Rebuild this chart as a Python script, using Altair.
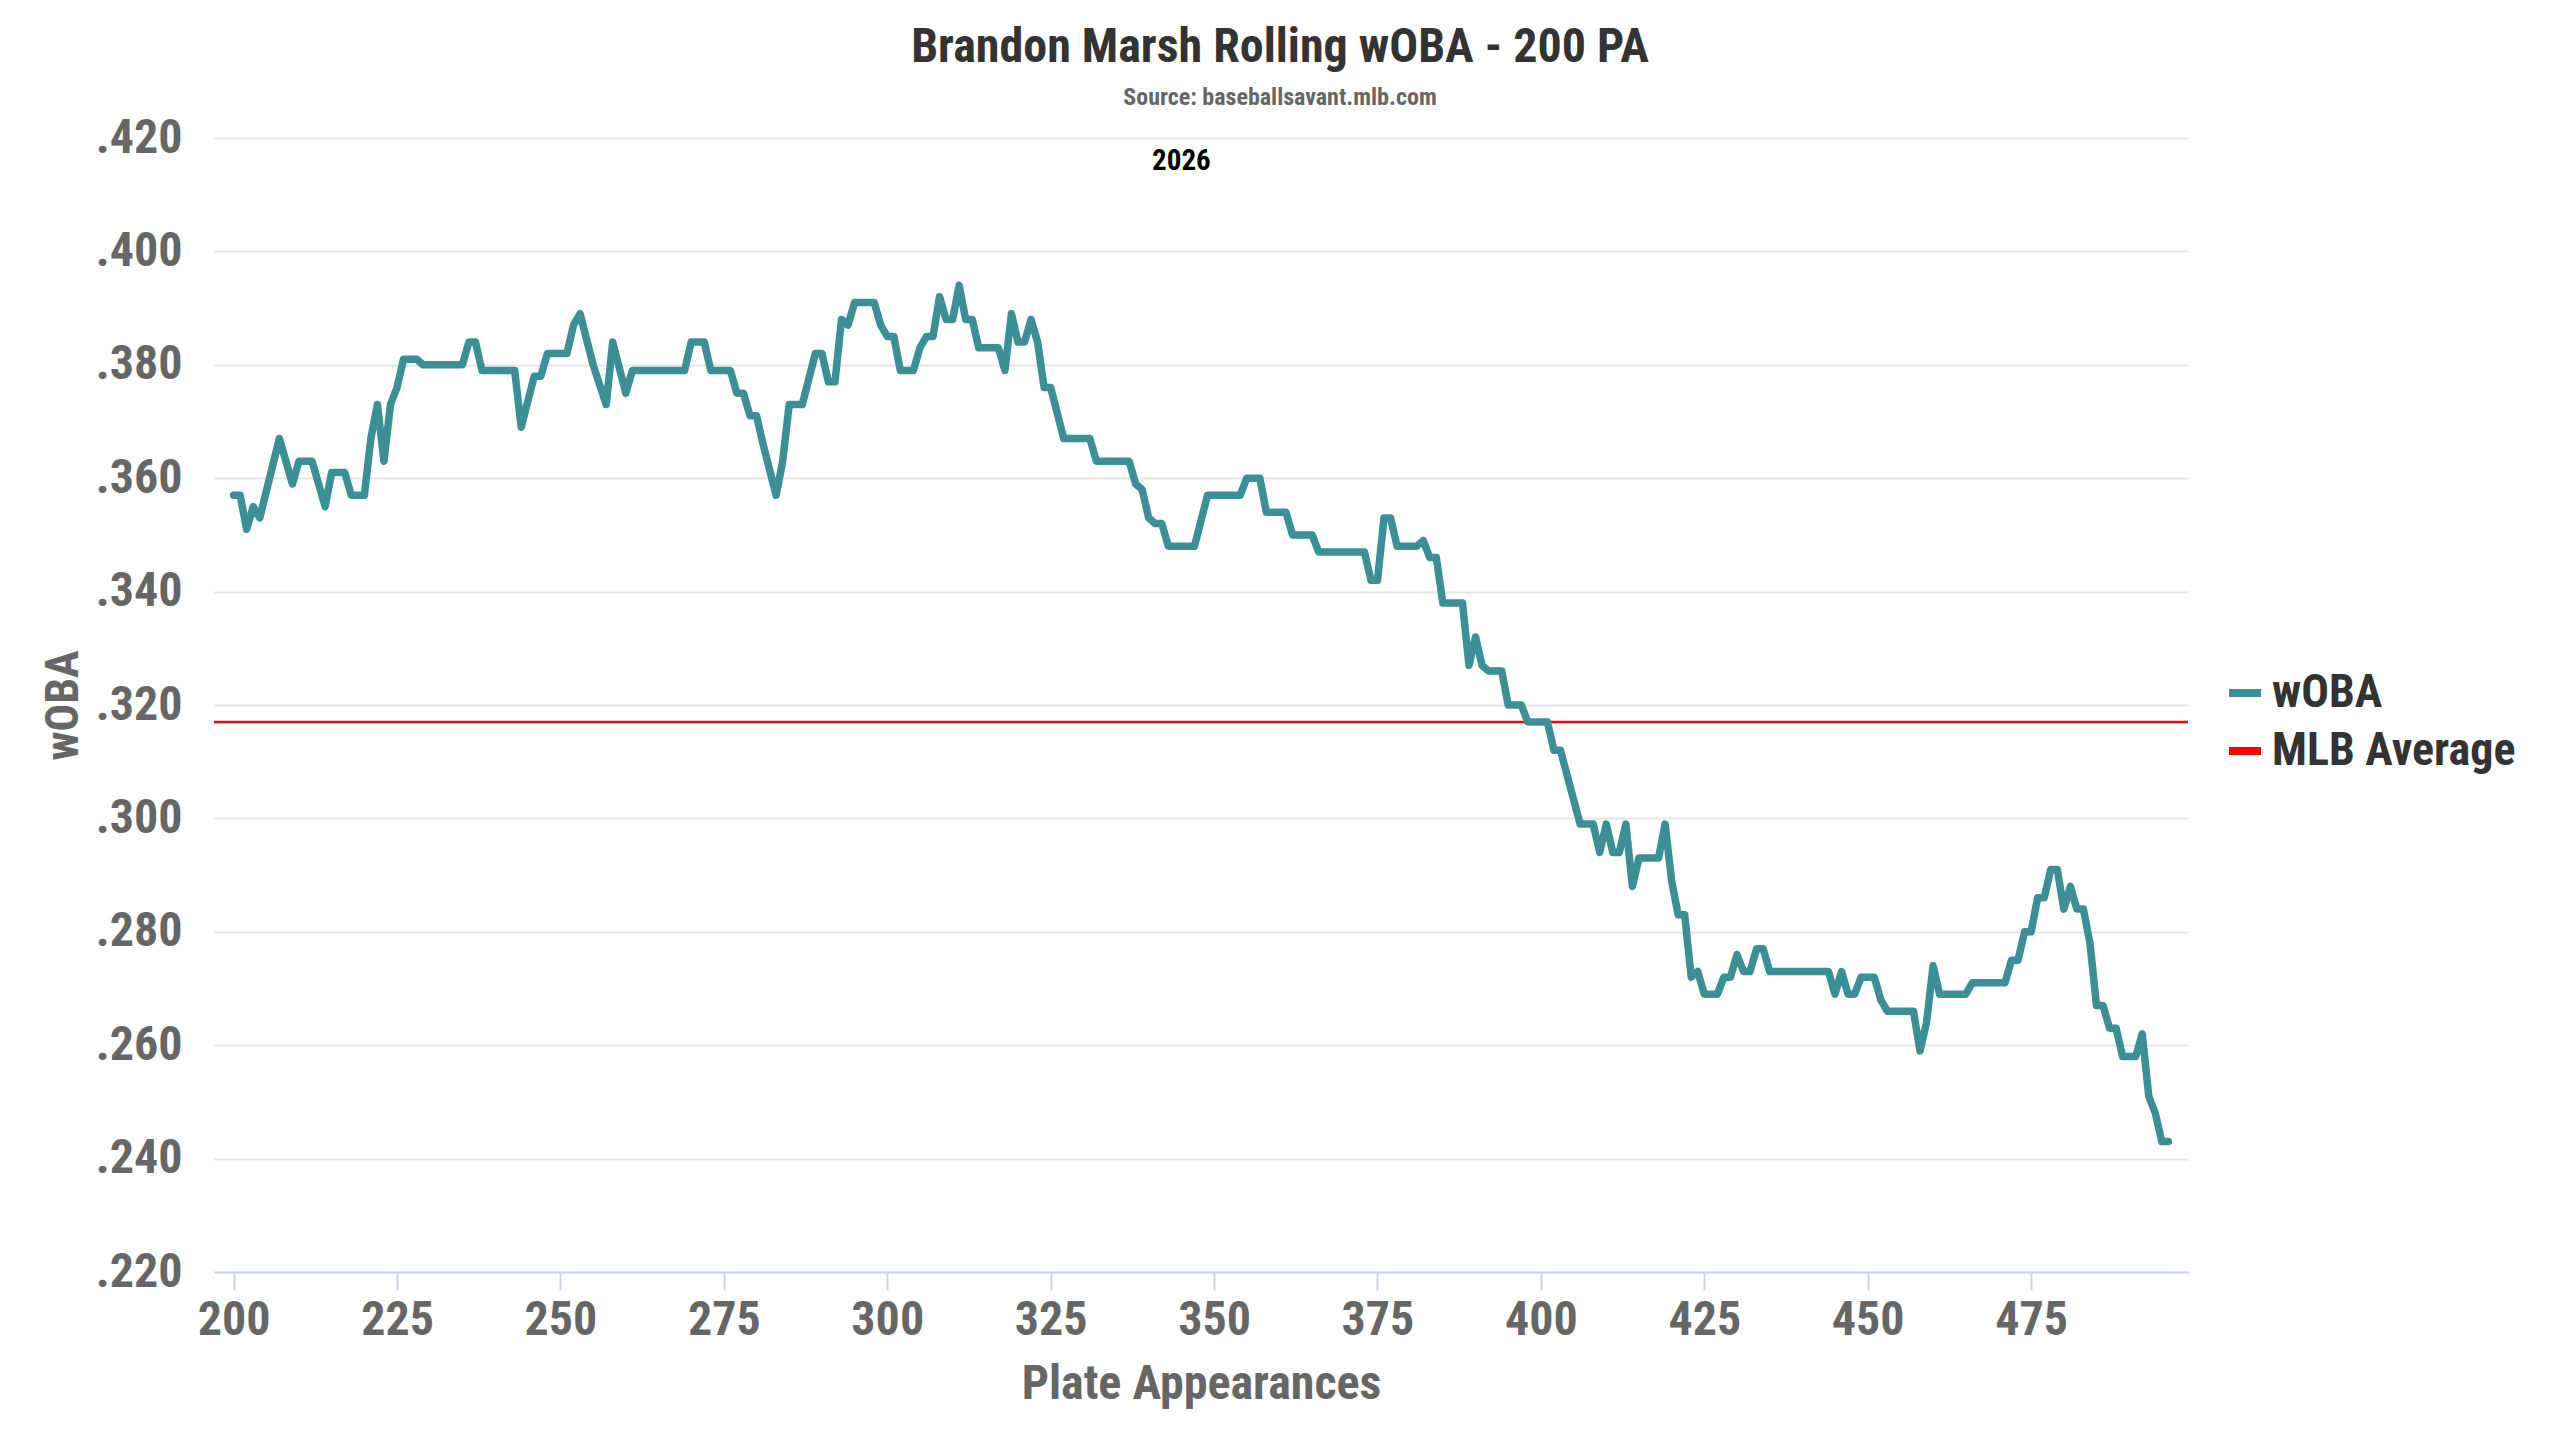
import altair as alt
import pandas as pd

# ---------------- data ----------------
PA = [200, 201, 202, 203, 204, 207, 209, 210, 212, 214, 215, 217, 218, 220,
      221, 222, 223, 224, 225, 226, 228, 229, 235, 236, 237, 238, 243, 244,
      246, 247, 248, 251, 252, 253, 255, 257, 258, 260, 261, 269, 270, 272,
      273, 276, 277, 278, 279, 280, 281, 283, 284, 285, 287, 289, 290, 291,
      292, 293, 294, 295, 298, 299, 300, 301, 302, 304, 305, 306, 307, 308,
      309, 310, 311, 312, 313, 314, 317, 318, 319, 320, 321, 322, 323, 324,
      325, 327, 331, 332, 337, 338, 339, 340, 341, 342, 343, 347, 349, 354,
      355, 357, 358, 361, 362, 365, 366, 373, 374, 375, 376, 377, 378, 381,
      382, 383, 384, 385, 388, 389, 390, 391, 392, 394, 395, 397, 398, 401,
      402, 403, 406, 408, 409, 410, 411, 412, 413, 414, 415, 418, 419, 420,
      421, 422, 423, 424, 425, 427, 428, 429, 430, 431, 432, 433, 434, 435,
      444, 445, 446, 447, 448, 449, 451, 452, 453, 457, 458, 459, 460, 461,
      465, 466, 471, 472, 473, 474, 475, 476, 477, 478, 479, 480, 481, 482,
      483, 484, 485, 486, 487, 488, 489, 491, 492, 493, 494, 495, 496]

WOBA = [.357, .357, .351, .355, .353, .367, .359, .363, .363, .355, .361, .361, .357, .357,
        .367, .373, .363, .373, .376, .381, .381, .380, .380, .384, .384, .379, .379, .369,
        .378, .378, .382, .382, .387, .389, .380, .373, .384, .375, .379, .379, .384, .384,
        .379, .379, .375, .375, .371, .371, .366, .357, .363, .373, .373, .382, .382, .377,
        .377, .388, .387, .391, .391, .387, .385, .385, .379, .379, .383, .385, .385, .392,
        .388, .388, .394, .388, .388, .383, .383, .379, .389, .384, .384, .388, .384, .376,
        .376, .367, .367, .363, .363, .359, .358, .353, .352, .352, .348, .348, .357, .357,
        .360, .360, .354, .354, .350, .350, .347, .347, .342, .342, .353, .353, .348, .348,
        .349, .346, .346, .338, .338, .327, .332, .327, .326, .326, .320, .320, .317, .317,
        .312, .312, .299, .299, .294, .299, .294, .294, .299, .288, .293, .293, .299, .289,
        .283, .283, .272, .273, .269, .269, .272, .272, .276, .273, .273, .277, .277, .273,
        .273, .269, .273, .269, .269, .272, .272, .268, .266, .266, .259, .264, .274, .269,
        .269, .271, .271, .275, .275, .280, .280, .286, .286, .291, .291, .284, .288, .284,
        .284, .278, .267, .267, .263, .263, .258, .258, .262, .251, .248, .243, .243]

assert len(PA) == len(WOBA)

MLB_AVG = [0.317]
SERIES = ["wOBA", "MLB Average"]
COLORS = ["#3b9098", "#ff0000"]
X_TICKS = [200, 225, 250, 275, 300, 325, 350, 375, 400, 425, 450, 475]
Y_TICKS = [0.22, 0.24, 0.26, 0.28, 0.30, 0.32, 0.34, 0.36, 0.38, 0.40, 0.42]
X_DOMAIN = [197, 499]
Y_DOMAIN = [0.22, 0.42]
TITLE = "Brandon Marsh Rolling wOBA - 200 PA"
SUBTITLE = "Source: baseballsavant.mlb.com"
YEAR_LABEL = ["2026"]
YEAR_POS = (345, 0.4159)

FONT = "Roboto Condensed, Liberation Sans Narrow, Roboto, sans-serif"

woba_df = pd.DataFrame({"PA": PA, "wOBA": WOBA, "series": SERIES[0]})
avg_df = pd.DataFrame({"wOBA": MLB_AVG, "series": SERIES[1]})
year_df = pd.DataFrame({"label": YEAR_LABEL})

x_scale = alt.Scale(domain=X_DOMAIN, nice=False, zero=False)
y_scale = alt.Scale(domain=Y_DOMAIN, nice=False, zero=False)

color = alt.Color(
    "series:N",
    scale=alt.Scale(domain=SERIES, range=COLORS),
    legend=alt.Legend(
        title=None,
        orient="none",
        legendX=2008,
        legendY=532,
        symbolType="stroke",
        symbolSize=1024,
        symbolStrokeWidth=8,
        labelFont=FONT,
        labelFontSize=46,
        labelFontWeight="bold",
        labelColor="#333333",
        labelOffset=4,
        labelLimit=0,
        rowPadding=12,
        padding=0,
    ),
)

x_axis = alt.Axis(
    values=X_TICKS,
    format="d",
    title="Plate Appearances",
    grid=False,
    domainColor="#ccd6eb",
    domainWidth=2,
    tickColor="#ccd6eb",
    tickWidth=2,
    tickSize=18,
    labelFont=FONT,
    labelFontSize=48,
    labelFontWeight="bold",
    labelColor="#666666",
    labelPadding=6,
    titleFont=FONT,
    titleFontSize=48,
    titleFontWeight="bold",
    titleColor="#666666",
    titlePadding=16,
)

y_axis = alt.Axis(
    values=Y_TICKS,
    labelExpr="substring(format(datum.value, '.3f'), 1)",
    title="wOBA",
    grid=True,
    gridColor="#e6e6e6",
    gridWidth=2,
    domain=False,
    ticks=False,
    labelFont=FONT,
    labelFontSize=48,
    labelFontWeight="bold",
    labelColor="#666666",
    labelPadding=32,
    titleFont=FONT,
    titleFontSize=46,
    titleFontWeight="bold",
    titleColor="#666666",
    titlePadding=8,
)

line = alt.Chart(woba_df).mark_line(
    strokeWidth=7.5, strokeJoin="round", strokeCap="round"
).encode(
    x=alt.X("PA:Q", scale=x_scale, axis=x_axis),
    y=alt.Y("wOBA:Q", scale=y_scale, axis=y_axis),
    color=color,
)

avg = alt.Chart(avg_df).mark_rule(strokeWidth=2.5).encode(
    y=alt.Y("wOBA:Q", scale=y_scale),
    color=alt.Color("series:N", scale=alt.Scale(domain=SERIES, range=COLORS)),
)

year = alt.Chart(year_df).mark_text(
    font=FONT, fontSize=29, fontWeight="bold", color="#000000", baseline="middle"
).encode(
    x=alt.datum(YEAR_POS[0]),
    y=alt.datum(YEAR_POS[1]),
    text="label:N",
)

chart = alt.layer(avg, line, year).properties(
    width=1974,
    height=1134,
    padding={"left": 206, "top": 130, "right": 364, "bottom": 150},
    autosize=alt.AutoSizeParams(type="none"),
    background="white",
    title=alt.Title(
        TITLE,
        subtitle=SUBTITLE,
        anchor="middle",
        frame="group",
        dx=79,
        offset=4,
        font=FONT,
        fontSize=48,
        fontWeight="bold",
        color="#333333",
        subtitleFont=FONT,
        subtitleFontSize=24,
        subtitleFontWeight="bold",
        subtitleColor="#666666",
        subtitlePadding=14,
    ),
).configure_view(stroke=None)

chart.save("out.html", embed_options={"renderer": "svg", "actions": False})
